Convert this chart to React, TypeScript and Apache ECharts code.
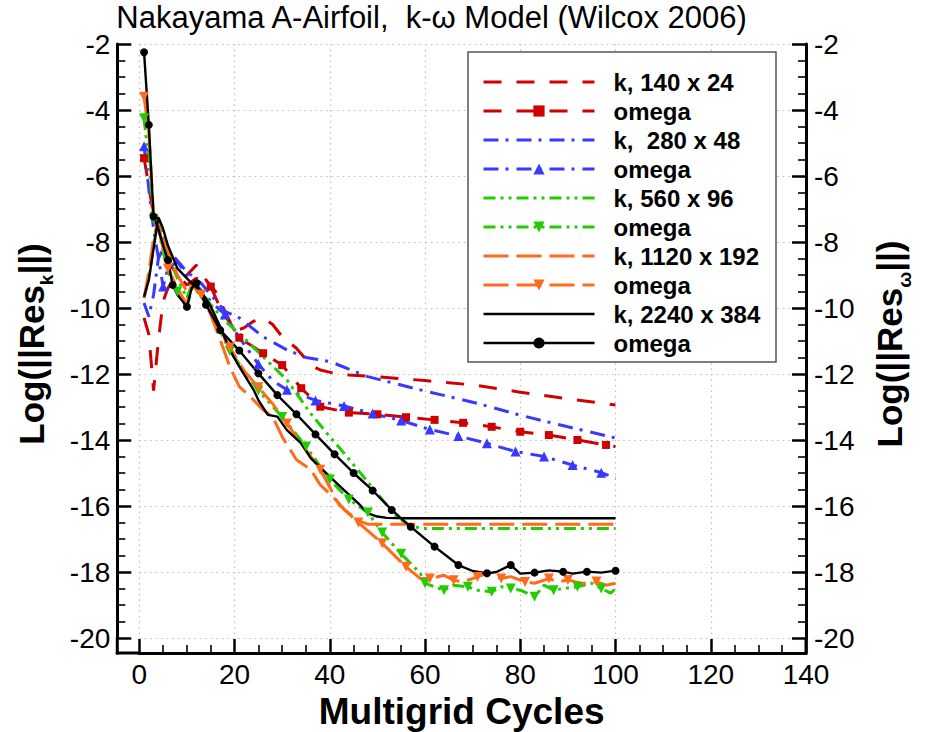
import React, { useEffect, useRef } from 'react';
import * as echarts from 'echarts';

const FONT = '"Liberation Sans", Arial, Helvetica, sans-serif';

const TITLE = 'Nakayama A-Airfoil,  k-\u03c9 Model (Wilcox 2006)';
const X_NAME = 'Multigrid Cycles';
const X_RANGE = [0, 140];
const X_STEP = 20;
const Y_RANGE = [-20, -2];
const Y_STEP = 2;

const LEGEND_LABELS = [
  'k, 140 x 24', 'omega',
  'k,  280 x 48', 'omega',
  'k, 560 x 96', 'omega',
  'k, 1120 x 192', 'omega',
  'k, 2240 x 384', 'omega',
];

// 140 x 24
const RED_K: [number, number][] = [
  [1, -10.3], [2, -10.8], [3, -12.5], [4, -11.0], [5, -9.8], [6, -9.4], [7, -9.2], [8, -9.15],
  [10, -9.0], [12, -8.7], [14, -9.15], [16, -9.5], [18, -10.1], [20, -10.7], [22, -10.6],
  [24, -10.4], [26, -10.3], [28, -10.5], [30, -10.87], [33, -11.22], [36, -11.73], [38, -11.88],
  [41, -11.98], [44, -12.03], [50, -12.08], [60, -12.2], [70, -12.33], [80, -12.55], [90, -12.75],
  [100, -12.94],
];
const RED_W: [number, number][] = [
  [1, -5.46], [2, -6.3], [3, -7.2], [4, -7.5], [5, -8.2], [6, -8.6], [8, -9.0], [10, -9.3],
  [12, -9.1], [15, -9.35], [17, -10.0], [21, -10.9], [26, -11.37], [30, -11.73], [34, -12.43],
  [38, -12.99], [44, -13.17], [50, -13.22], [56, -13.31], [62, -13.39], [68, -13.48], [74, -13.6],
  [80, -13.75], [86, -13.85], [92, -14.0], [98, -14.15], [100, -14.2],
];
const RED_W_MARKS = [1, 15, 21, 26, 30, 34, 38, 44, 50, 56, 62, 68, 74, 80, 86, 92, 98];

// 280 x 48
const BLUE_K: [number, number][] = [
  [1, -9.85], [2, -10.26], [3, -9.6], [4, -8.5], [5, -8.2], [7, -8.4], [10, -8.9], [13, -9.25],
  [15, -9.6], [18, -10.1], [21, -10.3], [26, -10.87], [31, -11.27], [35, -11.5], [40, -11.62],
  [48, -12.08], [59, -12.48], [71, -12.89], [80, -13.25], [90, -13.6], [100, -13.94],
];
const BLUE_W: [number, number][] = [
  [1, -5.1], [2, -6.4], [3, -7.6], [5, -9.35], [6, -8.8], [8, -8.6], [10, -9.0], [12, -9.3],
  [15, -9.8], [18, -10.2], [21, -10.9], [25, -11.7], [28, -12.2], [31, -12.48], [37, -12.8],
  [43, -12.97], [49, -13.2], [55, -13.41], [61, -13.68], [67, -13.88], [73, -14.1], [79, -14.35],
  [85, -14.5], [91, -14.76], [97, -14.99], [100, -15.15],
];
const BLUE_W_MARKS = [1, 5, 18, 25, 31, 37, 43, 49, 55, 61, 67, 73, 79, 85, 91, 97];

// 560 x 96
const GREEN_K: [number, number][] = [
  [1, -9.7], [2, -9.1], [3, -8.1], [4, -7.3], [5, -7.8], [6, -8.4], [8, -9.1], [10, -9.7],
  [11, -9.3], [13, -9.5], [15, -9.9], [18, -10.4], [21, -10.77], [26, -11.48], [31, -12.18],
  [36, -13.2], [40, -13.9], [43, -14.4], [47, -15.1], [51, -15.8], [54, -16.32], [57, -16.62],
  [60, -16.68], [100, -16.68],
];
const GREEN_W: [number, number][] = [
  [1, -4.25], [2, -5.6], [3, -7.3], [4, -7.6], [5, -8.3], [6, -8.9], [8, -9.5], [10, -10.0],
  [11, -9.4], [13, -9.6], [15, -10.1], [17, -10.7], [19, -11.3], [22, -11.9], [25, -12.5],
  [30, -13.3], [35, -14.2], [40, -15.2], [44, -15.8], [48, -16.2], [51, -16.8], [55, -17.45],
  [59, -18.04], [60, -18.34], [62, -18.45], [64, -18.55], [66, -18.4], [69, -18.45], [71, -18.55],
  [74, -18.6], [76, -18.45], [78, -18.5], [80, -18.55], [83, -18.75], [85, -18.4], [87, -18.55],
  [89, -18.5], [92, -18.45], [95, -18.34], [97, -18.5], [99, -18.64], [100, -18.5],
];
const GREEN_W_MARKS = [1, 3, 8, 13, 19, 25, 30, 35, 40, 44, 48, 51, 55, 60, 64, 69, 74, 78, 83, 87, 92, 97];

// 1120 x 192
const ORANGE_K: [number, number][] = [
  [1, -9.7], [2, -8.9], [3, -7.9], [4, -7.3], [5, -7.7], [6, -8.3], [8, -9.0], [10, -9.5],
  [11, -9.3], [13, -9.6], [15, -10.2], [17, -10.97], [19, -11.78], [21, -12.38], [24, -12.79],
  [26, -13.09], [28, -13.29], [30, -13.9], [33, -14.6], [36, -14.9], [38, -15.36], [41, -15.77],
  [43, -16.1], [46, -16.45], [48, -16.55], [100, -16.55],
];
const ORANGE_W: [number, number][] = [
  [1, -3.6], [2, -4.7], [3, -7.2], [4, -7.5], [5, -8.2], [6, -8.8], [8, -9.4], [10, -9.9],
  [11, -9.3], [13, -9.6], [15, -10.1], [17, -10.7], [19, -11.2], [22, -11.9], [25, -12.4],
  [28, -12.9], [31, -13.5], [35, -14.3], [38, -14.9], [42, -15.97], [46, -16.5], [51, -17.13],
  [56, -17.84], [59, -18.2], [61, -18.2], [64, -18.1], [66, -18.25], [68, -18.3], [71, -18.15],
  [73, -18.04], [76, -18.2], [78, -18.14], [81, -18.3], [83, -18.34], [86, -18.2], [88, -18.3],
  [90, -18.24], [93, -18.35], [96, -18.29], [98, -18.4], [100, -18.34],
];
const ORANGE_W_MARKS = [1, 6, 13, 19, 25, 31, 38, 46, 51, 56, 61, 66, 71, 76, 81, 86, 90, 96];

// 2240 x 384
const BLACK_K: [number, number][] = [
  [1, -9.66], [2, -9.15], [3, -8.2], [4, -7.25], [5, -7.6], [6, -8.1], [8, -8.8], [10, -9.1],
  [11, -9.25], [13, -9.5], [15, -9.95], [17, -10.57], [19, -11.27], [21, -11.78], [24, -12.48],
  [25, -12.79], [27, -13.24], [29, -13.29], [31, -13.7], [34, -14.1], [36, -14.55], [40, -15.11],
  [43, -15.52], [46, -15.92], [48, -16.22], [50, -16.32], [52, -16.36], [56, -16.37], [100, -16.37],
];
const BLACK_W: [number, number][] = [
  [1, -2.25], [2, -4.45], [3, -7.23], [4, -7.6], [5, -8.1], [6, -8.55], [7, -9.3], [8, -9.6],
  [10, -9.96], [11, -9.4], [12, -9.25], [13, -9.6], [14, -9.9], [17, -10.67], [21, -11.29],
  [25, -11.98], [29, -12.64], [33, -13.22], [37, -13.83], [41, -14.43], [45, -15.0], [49, -15.53],
  [53, -16.12], [57, -16.63], [62, -17.23], [67, -17.79], [70, -17.97], [73, -18.04], [75, -18.0],
  [78, -17.79], [80, -18.05], [83, -18.02], [86, -17.95], [89, -17.99], [91, -18.05], [94, -17.99],
  [97, -18.02], [100, -17.96],
];
const BLACK_W_MARKS = [1, 2, 3, 6, 7, 10, 12, 14, 17, 21, 25, 29, 33, 37, 41, 45, 49, 53, 57, 62, 67, 73, 78, 83, 89, 94, 100];

const RED = '#d00000';
const BLUE = '#3838ff';
const GREEN = '#22cc00';
const ORANGE = '#ff6a1c';
const BLACK = '#000000';

const GRID = { left: 139.3, right: 122, top: 44, bottom: 94 };
const Y_OFFSET = 22;
const X_OFFSET = 15;
const W = 928;
const H = 732;

type Pt = [number, number];

function makeSeries(
  name: string,
  color: string,
  dash: number[] | 'solid',
  pts: Pt[],
  width: number,
  marks?: number[],
  symbol?: string,
  symbolSize?: number,
  rotate?: number,
) {
  const data = pts.map(([x, y]) =>
    marks ? (marks.includes(x) ? { value: [x, y] } : { value: [x, y], symbol: 'none' }) : [x, y],
  );
  return {
    type: 'line',
    name,
    data,
    symbol: marks ? symbol : 'none',
    symbolSize: symbolSize || 8,
    symbolRotate: rotate || 0,
    showSymbol: !!marks,
    showAllSymbol: true,
    lineStyle: { color, width, type: dash },
    itemStyle: { color },
    emphasis: { disabled: true },
    z: 2,
  };
}

export default function App() {
  const ref = useRef<HTMLDivElement>(null);

  useEffect(() => {
    if (!ref.current) return;
    const chart = echarts.init(ref.current, null, { renderer: 'svg' });

    const seriesNames = LEGEND_LABELS.map((l, i) => `${l}#${i}`);
    const series = [
      makeSeries(seriesNames[0], RED, [18, 15], RED_K, 3),
      makeSeries(seriesNames[1], RED, [18, 15], RED_W, 3, RED_W_MARKS, 'rect', 8),
      makeSeries(seriesNames[2], BLUE, [15, 7, 3, 8], BLUE_K, 3),
      makeSeries(seriesNames[3], BLUE, [15, 7, 3, 8], BLUE_W, 3, BLUE_W_MARKS, 'triangle', 10),
      makeSeries(seriesNames[4], GREEN, [12, 5, 3, 5, 3, 5], GREEN_K, 3),
      makeSeries(seriesNames[5], GREEN, [12, 5, 3, 5, 3, 5], GREEN_W, 3, GREEN_W_MARKS, 'triangle', 10, 180),
      makeSeries(seriesNames[6], ORANGE, [25, 8], ORANGE_K, 3),
      makeSeries(seriesNames[7], ORANGE, [25, 8], ORANGE_W, 3, ORANGE_W_MARKS, 'triangle', 10, 180),
      makeSeries(seriesNames[8], BLACK, 'solid', BLACK_K, 2.4),
      makeSeries(seriesNames[9], BLACK, 'solid', BLACK_W, 2.4, BLACK_W_MARKS, 'circle', 8),
    ];

    const axisCommon = {
      type: 'value',
      axisLine: { show: true, onZero: false, lineStyle: { color: '#000', width: 3 } },
      axisTick: { show: true, inside: true, length: 14, lineStyle: { color: '#000', width: 2.5 } },
      minorTick: { show: true, splitNumber: 4, length: 8, lineStyle: { color: '#000', width: 1.6 } },
      axisLabel: {
        show: true, fontSize: 28, color: '#000', fontFamily: FONT, showMinLabel: true, showMaxLabel: true,
      },
    };
    const gridLine = { show: true, lineStyle: { color: '#bdbdbd', width: 1.2, type: [1.5, 4] } };

    const left = GRID.left - Y_OFFSET;
    const right = W - GRID.right;
    const bottom = H - GRID.bottom + X_OFFSET;
    const plotBottom = H - GRID.bottom;

    const subRich = (main: string, sub: string) => ({
      text: `{m|${main}}{s|${sub}}{m|||)}`,
      rich: {
        m: { fontSize: 35, fontWeight: 'bold', fontFamily: FONT, fill: '#000', color: '#000', lineHeight: 50, verticalAlign: 'middle' },
        s: { fontSize: 19, fontWeight: 'bold', fontFamily: FONT, fill: '#000', color: '#000', lineHeight: 19, verticalAlign: 'bottom' },
      },
    });

    const legendData = series.map((s: any, i) => ({
      name: s.name,
      lineStyle: { color: s.lineStyle.color, width: s.lineStyle.width, type: s.lineStyle.type, opacity: 1 },
      ...(i % 2 === 0
        ? { itemStyle: { color: 'rgba(0,0,0,0)', borderColor: 'rgba(0,0,0,0)', borderWidth: 0 } }
        : {}),
    }));

    const option: any = {
      animation: false,
      backgroundColor: '#fff',
      title: {
        text: TITLE,
        left: left - 1,
        top: 2,
        padding: 0,
        textStyle: { fontSize: 31, fontWeight: 'normal', color: '#000', fontFamily: FONT },
      },
      grid: { left: GRID.left, right: GRID.right, top: GRID.top, bottom: GRID.bottom, containLabel: false },
      xAxis: {
        ...axisCommon,
        min: X_RANGE[0], max: X_RANGE[1], interval: X_STEP,
        position: 'bottom', offset: X_OFFSET,
        axisLabel: { ...axisCommon.axisLabel, margin: 7 },
        splitLine: gridLine,
      },
      yAxis: [
        {
          ...axisCommon,
          min: Y_RANGE[0], max: Y_RANGE[1], interval: Y_STEP,
          position: 'left', offset: Y_OFFSET,
          axisLabel: { ...axisCommon.axisLabel, margin: 7 },
          splitLine: gridLine,
        },
        {
          ...axisCommon,
          min: Y_RANGE[0], max: Y_RANGE[1], interval: Y_STEP,
          position: 'right', offset: 0,
          axisLabel: { ...axisCommon.axisLabel, margin: 8 },
          splitLine: { show: false },
        },
      ],
      legend: {
        orient: 'vertical',
        left: 482,
        top: 70,
        padding: 0,
        itemWidth: 111,
        itemHeight: 14,
        itemGap: 5,
        selectedMode: false,
        data: legendData,
        formatter: (n: string) => n.replace(/#\d+$/, ''),
        textStyle: {
          fontSize: 24, fontWeight: 'bold', color: '#000', fontFamily: FONT, lineHeight: 22,
          padding: [0, 0, 0, 14],
        },
        z: 6,
      },
      graphic: [
        {
          type: 'rect', z: 3,
          shape: { x: 468, y: 52, width: 308, height: 310 },
          style: { fill: '#fff', stroke: '#555', lineWidth: 1.5 },
        },
        {
          type: 'line', z: 10,
          shape: { x1: left, y1: plotBottom - 1, x2: left, y2: bottom + 1.5 },
          style: { stroke: '#000', lineWidth: 3 },
        },
        {
          type: 'line', z: 10,
          shape: { x1: right, y1: plotBottom - 1, x2: right, y2: bottom + 1.5 },
          style: { stroke: '#000', lineWidth: 3 },
        },
        {
          type: 'line', z: 10,
          shape: { x1: left - 1.5, y1: bottom, x2: GRID.left + 1, y2: bottom },
          style: { stroke: '#000', lineWidth: 3 },
        },
        {
          type: 'text', z: 10, x: (left + right) / 2, y: 711,
          style: {
            text: X_NAME, fontSize: 37, fontWeight: 'bold', fontFamily: FONT, fill: '#000',
            align: 'center', verticalAlign: 'middle', textAlign: 'center', textVerticalAlign: 'middle',
          },
        },
        {
          type: 'text', z: 10, x: 31, y: 344, rotation: Math.PI / 2,
          style: {
            ...subRich('Log(||Res', 'k'),
            align: 'center', verticalAlign: 'middle', textAlign: 'center', textVerticalAlign: 'middle',
          },
        },
        {
          type: 'text', z: 10, x: 889, y: 344, rotation: Math.PI / 2,
          style: {
            ...subRich('Log(||Res', '\u03c9'),
            align: 'center', verticalAlign: 'middle', textAlign: 'center', textVerticalAlign: 'middle',
          },
        },
      ],
      series,
    };

    chart.setOption(option);
    return () => chart.dispose();
  }, []);

  return (
    <div
      ref={ref}
      style={{ position: 'absolute', left: 0, top: 0, width: W, height: H, background: '#fff' }}
    />
  );
}
